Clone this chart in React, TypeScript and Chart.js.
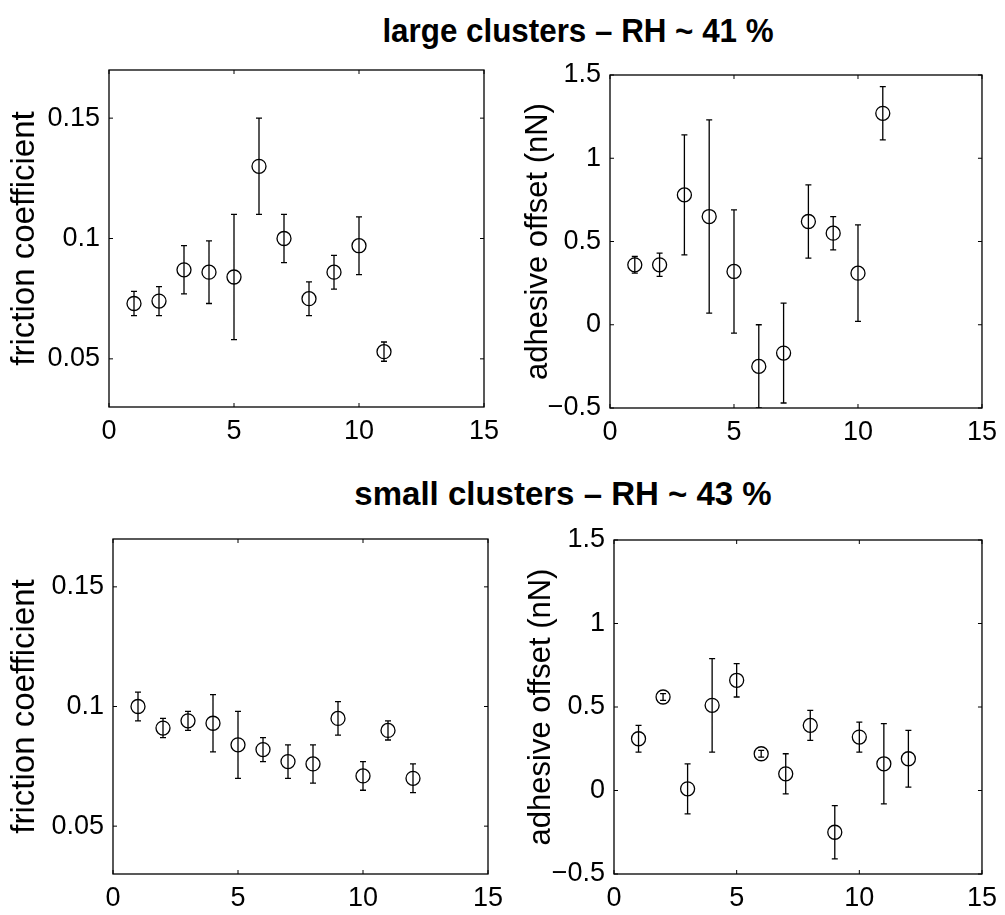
import React, { useEffect, useRef } from 'react';
import { Chart, registerables } from 'chart.js';

Chart.register(...registerables);

// ---------- data ----------
const xTicks = [0, 5, 10, 15];
const frictionTicks = [0.05, 0.1, 0.15];
const adhesionTicks = [-0.5, 0, 0.5, 1, 1.5];

const titleLarge = 'large clusters \u2013 RH ~ 41 %';
const titleSmall = 'small clusters \u2013 RH ~ 43 %';
const frictionLabel = 'friction coefficient';
const adhesionLabel = 'adhesive offset (nN)';

const largeX = [1, 2, 3, 4, 5, 6, 7, 8, 9, 10, 11];
const largeFriction = [0.073, 0.074, 0.087, 0.086, 0.084, 0.130, 0.100, 0.075, 0.086, 0.097, 0.053];
const largeFrictionLo = [0.068, 0.068, 0.077, 0.073, 0.058, 0.110, 0.090, 0.068, 0.079, 0.085, 0.049];
const largeFrictionHi = [0.078, 0.080, 0.097, 0.099, 0.110, 0.150, 0.110, 0.082, 0.093, 0.109, 0.057];

const largeAdhesion = [0.36, 0.36, 0.78, 0.65, 0.32, -0.25, -0.17, 0.62, 0.55, 0.31, 1.27];
const largeAdhesionLo = [0.31, 0.29, 0.42, 0.07, -0.05, -0.50, -0.47, 0.40, 0.45, 0.02, 1.11];
const largeAdhesionHi = [0.41, 0.43, 1.14, 1.23, 0.69, 0.00, 0.13, 0.84, 0.65, 0.60, 1.43];

const smallX = [1, 2, 3, 4, 5, 6, 7, 8, 9, 10, 11, 12];
const smallFriction = [0.100, 0.091, 0.094, 0.093, 0.084, 0.082, 0.077, 0.076, 0.095, 0.071, 0.090, 0.070];
const smallFrictionLo = [0.094, 0.087, 0.090, 0.081, 0.070, 0.077, 0.070, 0.068, 0.088, 0.065, 0.086, 0.064];
const smallFrictionHi = [0.106, 0.095, 0.098, 0.105, 0.098, 0.087, 0.084, 0.084, 0.102, 0.077, 0.094, 0.076];

const smallAdhesion = [0.31, 0.56, 0.01, 0.51, 0.66, 0.22, 0.10, 0.39, -0.25, 0.32, 0.16, 0.19];
const smallAdhesionLo = [0.23, 0.54, -0.14, 0.23, 0.56, 0.20, -0.02, 0.30, -0.41, 0.23, -0.08, 0.02];
const smallAdhesionHi = [0.39, 0.58, 0.16, 0.79, 0.76, 0.24, 0.22, 0.48, -0.09, 0.41, 0.40, 0.36];

// ---------- layout ----------
const PAGE_W = 1005;
const PAGE_H = 915;
const FONT = "'Liberation Sans', Arial, Helvetica, sans-serif";

type Box = { left: number; top: number; right: number; bottom: number };

type PanelProps = {
  box: Box;
  labelLeft: number;
  labelSize: number;
  xs: number[];
  ys: number[];
  lo: number[];
  hi: number[];
  yMin: number;
  yMax: number;
  yTicks: number[];
  yTitle: string;
};

const fmt = (v: number) => (v < 0 ? '\u2212' + String(-v) : String(v));

function Panel(props: PanelProps) {
  const ref = useRef<HTMLCanvasElement>(null);
  useEffect(() => {
    const { box, labelLeft, labelSize, xs, ys, lo, hi, yMin, yMax, yTicks, yTitle } = props;
    const XH = 50;
    const plugin = {
      id: 'matlabAxes',
      afterDatasetsDraw(chart: any) {
        const { ctx, chartArea: a, scales } = chart;
        const x = scales.x;
        const y = scales.y;
        ctx.save();
        ctx.beginPath();
        ctx.rect(a.left, a.top, a.right - a.left, a.bottom - a.top);
        ctx.clip();
        ctx.strokeStyle = '#000';
        ctx.lineWidth = 1.3;
        ctx.beginPath();
        xs.forEach((xv, i) => {
          const px = x.getPixelForValue(xv);
          const p1 = y.getPixelForValue(lo[i]);
          const p2 = y.getPixelForValue(hi[i]);
          ctx.moveTo(px, p1);
          ctx.lineTo(px, p2);
          ctx.moveTo(px - 3, p1);
          ctx.lineTo(px + 3, p1);
          ctx.moveTo(px - 3, p2);
          ctx.lineTo(px + 3, p2);
        });
        ctx.stroke();
        ctx.restore();
      },
      afterDraw(chart: any) {
        const { ctx, chartArea: a, scales } = chart;
        const x = scales.x;
        const y = scales.y;
        const tl = 4;
        ctx.save();
        ctx.strokeStyle = '#000';
        ctx.lineWidth = 1.3;
        ctx.strokeRect(a.left, a.top, a.right - a.left, a.bottom - a.top);
        ctx.beginPath();
        x.ticks.forEach((t: any) => {
          const px = x.getPixelForValue(t.value);
          ctx.moveTo(px, a.bottom);
          ctx.lineTo(px, a.bottom - tl);
          ctx.moveTo(px, a.top);
          ctx.lineTo(px, a.top + tl);
        });
        y.ticks.forEach((t: any) => {
          const py = y.getPixelForValue(t.value);
          ctx.moveTo(a.left, py);
          ctx.lineTo(a.left + tl, py);
          ctx.moveTo(a.right, py);
          ctx.lineTo(a.right - tl, py);
        });
        ctx.lineWidth = 1;
        ctx.stroke();
        ctx.restore();
      },
    };

    const chart = new Chart(ref.current as HTMLCanvasElement, {
      type: 'scatter',
      data: {
        datasets: [
          {
            data: xs.map((xv, i) => ({ x: xv, y: ys[i] })),
            pointStyle: 'circle',
            pointRadius: 7,
            pointBorderWidth: 1.3,
            pointBorderColor: '#000',
            pointBackgroundColor: 'rgba(0,0,0,0)',
            showLine: false,
          },
        ],
      },
      options: {
        animation: false,
        responsive: false,
        devicePixelRatio: 1,
        events: [],
        layout: {
          padding: {
            left: labelLeft,
            top: box.top,
            right: PAGE_W - box.right,
            bottom: PAGE_H - box.bottom - XH,
          },
        },
        plugins: { legend: { display: false }, tooltip: { enabled: false }, title: { display: false } },
        scales: {
          x: {
            type: 'linear',
            min: 0,
            max: 15,
            grid: { display: false, drawTicks: false },
            border: { display: false },
            afterBuildTicks: (s: any) => {
              s.ticks = xTicks.map((v) => ({ value: v }));
            },
            afterFit: (s: any) => {
              s.height = XH;
            },
            ticks: {
              color: '#000',
              padding: 8,
              maxRotation: 0,
              font: { family: FONT, size: 27 },
              callback: (v: any) => fmt(Number(v)),
            },
          },
          y: {
            type: 'linear',
            min: yMin,
            max: yMax,
            grid: { display: false, drawTicks: false },
            border: { display: false },
            afterBuildTicks: (s: any) => {
              s.ticks = yTicks.map((v) => ({ value: v }));
            },
            afterFit: (s: any) => {
              s.width = box.left - labelLeft;
            },
            ticks: {
              color: '#000',
              padding: 9,
              font: { family: FONT, size: 27 },
              callback: (v: any) => fmt(Number(v)),
            },
            title: {
              display: true,
              text: yTitle,
              color: '#000',
              padding: { top: 4, bottom: 4 },
              font: { family: FONT, size: labelSize },
            },
          },
        },
      },
      plugins: [plugin],
    } as any);
    return () => chart.destroy();
  }, []);
  return (
    <canvas
      ref={ref}
      width={PAGE_W}
      height={PAGE_H}
      style={{ position: 'absolute', left: 0, top: 0, width: PAGE_W, height: PAGE_H }}
    />
  );
}

function Title({ text, cx, baseline, sx }: { text: string; cx: number; baseline: number; sx: number }) {
  return (
    <div
      style={{
        position: 'absolute',
        left: cx,
        top: baseline - 28,
        transform: `translateX(-50%) scaleX(${sx})`,
        whiteSpace: 'nowrap',
        fontFamily: FONT,
        fontWeight: 'bold',
        fontSize: 33,
        lineHeight: '33px',
        color: '#000',
      }}
    >
      {text}
    </div>
  );
}

export default function App() {
  return (
    <div
      style={{
        position: 'absolute',
        left: 0,
        top: 0,
        width: PAGE_W,
        height: PAGE_H,
        background: '#fff',
        overflow: 'hidden',
      }}
    >
      <Title text={titleLarge} cx={578} baseline={42} sx={0.95} />
      <Title text={titleSmall} cx={563} baseline={505} sx={1} />
      <Panel
        box={{ left: 109, top: 70, right: 484, bottom: 407 }}
        labelLeft={1}
        labelSize={33}
        xs={largeX}
        ys={largeFriction}
        lo={largeFrictionLo}
        hi={largeFrictionHi}
        yMin={0.03}
        yMax={0.17}
        yTicks={frictionTicks}
        yTitle={frictionLabel}
      />
      <Panel
        box={{ left: 610, top: 75, right: 984, bottom: 408 }}
        labelLeft={516}
        labelSize={31}
        xs={largeX}
        ys={largeAdhesion}
        lo={largeAdhesionLo}
        hi={largeAdhesionHi}
        yMin={-0.5}
        yMax={1.5}
        yTicks={adhesionTicks}
        yTitle={adhesionLabel}
      />
      <Panel
        box={{ left: 113, top: 539, right: 488, bottom: 874 }}
        labelLeft={1}
        labelSize={33}
        xs={smallX}
        ys={smallFriction}
        lo={smallFrictionLo}
        hi={smallFrictionHi}
        yMin={0.03}
        yMax={0.17}
        yTicks={frictionTicks}
        yTitle={frictionLabel}
      />
      <Panel
        box={{ left: 614, top: 540, right: 988, bottom: 874 }}
        labelLeft={519}
        labelSize={31}
        xs={smallX}
        ys={smallAdhesion}
        lo={smallAdhesionLo}
        hi={smallAdhesionHi}
        yMin={-0.5}
        yMax={1.5}
        yTicks={adhesionTicks}
        yTitle={adhesionLabel}
      />
    </div>
  );
}
